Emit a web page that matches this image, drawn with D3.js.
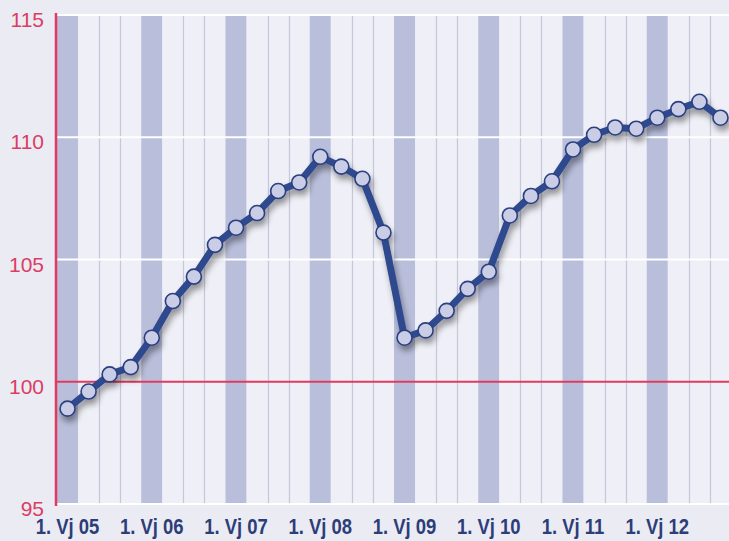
<!DOCTYPE html>
<html>
<head>
<meta charset="utf-8">
<script src="https://cdn.jsdelivr.net/npm/d3@7"></script>
<style>
  html, body { margin: 0; padding: 0; background: #ebebf4; }
  svg { display: block; }
  .y-label { font-family: "Liberation Sans", Arial, sans-serif; font-size: 21px; fill: #dc3d64; }
  .x-label { font-family: "Liberation Sans", Arial, sans-serif; font-weight: bold; font-size: 22px; fill: #2c3d78; }
</style>
</head>
<body>
<div id="chart"></div>
<script>
// quarters 2005 Q1 .. 2012 Q4
const years = ["05", "06", "07", "08", "09", "10", "11", "12"];
const quarters = years.flatMap(y => [1, 2, 3, 4].map(q => `${q}-${y}`));
const values = [
  98.9, 99.6, 100.3, 100.6,
  101.8, 103.3, 104.3, 105.6,
  106.3, 106.9, 107.8, 108.15,
  109.2, 108.8, 108.3, 106.1,
  101.8, 102.1, 102.9, 103.8,
  104.5, 106.8, 107.6, 108.2,
  109.5, 110.1, 110.4, 110.35,
  110.8, 111.15, 111.45, 110.8
];
const tickLabels = years.map(y => `1. Vj ${y}`);
const yTicks = [95, 100, 105, 110, 115];

const width = 729;
const height = 541;

const x = d3.scaleBand().domain(quarters).range([57, 731]).padding(0);
const y = d3.scaleLinear().domain([95, 115]).range([504, 15]);

const svg = d3.select("#chart").append("svg").attr("width", width).attr("height", height);

const defs = svg.append("defs");
const shadow = defs.append("filter").attr("id", "shadow").attr("x", "-10%").attr("y", "-10%").attr("width", "130%").attr("height", "130%");
shadow.append("feGaussianBlur").attr("in", "SourceAlpha").attr("stdDeviation", 3).attr("result", "blur");
shadow.append("feOffset").attr("in", "blur").attr("dx", 2).attr("dy", 5).attr("result", "off");
shadow.append("feComponentTransfer").attr("in", "off").attr("result", "shade")
  .append("feFuncA").attr("type", "linear").attr("slope", 0.4);
const merge = shadow.append("feMerge");
merge.append("feMergeNode").attr("in", "shade");
merge.append("feMergeNode").attr("in", "SourceGraphic");

svg.append("rect").attr("width", width).attr("height", height).attr("fill", "#ebebf4");

// quarter stripes
const stripes = svg.append("g");
stripes.selectAll("rect").data(quarters).enter().append("rect")
  .attr("x", d => x(d))
  .attr("y", y(115))
  .attr("width", x.bandwidth())
  .attr("height", y(95) - y(115))
  .attr("fill", d => d.startsWith("1-") ? "#b9bedb" : "#efeff7");

// thin dividers between light quarters
stripes.selectAll("line").data(quarters.filter(d => d.startsWith("3-") || d.startsWith("4-"))).enter().append("line")
  .attr("x1", d => Math.round(x(d)) + 0.5)
  .attr("x2", d => Math.round(x(d)) + 0.5)
  .attr("y1", y(115))
  .attr("y2", y(95))
  .attr("stroke", "#c6c7da")
  .attr("stroke-width", 1.2);

// horizontal grid
svg.append("g").selectAll("line").data(yTicks).enter().append("line")
  .attr("x1", 57)
  .attr("x2", width)
  .attr("y1", d => y(d))
  .attr("y2", d => y(d))
  .attr("stroke", d => d === 100 ? "#e23a5e" : "#ffffff")
  .attr("stroke-width", 2);

// left axis line
svg.append("line")
  .attr("x1", 56).attr("x2", 56)
  .attr("y1", y(115) - 2).attr("y2", y(95) + 2)
  .attr("stroke", "#e23a5e").attr("stroke-width", 2.5);

// y labels
svg.append("g").selectAll("text").data(yTicks).enter().append("text")
  .attr("class", "y-label")
  .attr("x", 44)
  .attr("y", d => y(d) + 12)
  .attr("text-anchor", "end")
  .text(d => d);

// x labels at Q1 of each year, condensed
svg.append("g").selectAll("text").data(tickLabels).enter().append("text")
  .attr("class", "x-label")
  .attr("transform", (d, i) => `translate(${x(`1-${years[i]}`) + x.bandwidth() / 2},534) scale(0.84,1)`)
  .attr("text-anchor", "middle")
  .text(d => d);

// series
const pts = quarters.map((q, i) => ({ q, v: values[i] }));
const line = d3.line().x(d => x(d.q) + x.bandwidth() / 2).y(d => y(d.v));

const series = svg.append("g").attr("filter", "url(#shadow)");
series.append("path")
  .datum(pts)
  .attr("d", line)
  .attr("fill", "none")
  .attr("stroke", "#2f4a8e")
  .attr("stroke-width", 7)
  .attr("stroke-linejoin", "round");

series.selectAll("circle").data(pts).enter().append("circle")
  .attr("cx", d => x(d.q) + x.bandwidth() / 2)
  .attr("cy", d => y(d.v))
  .attr("r", 7.5)
  .attr("fill", "#c9cde5")
  .attr("stroke", "#2c3f80")
  .attr("stroke-width", 1.6);
</script>
</body>
</html>
